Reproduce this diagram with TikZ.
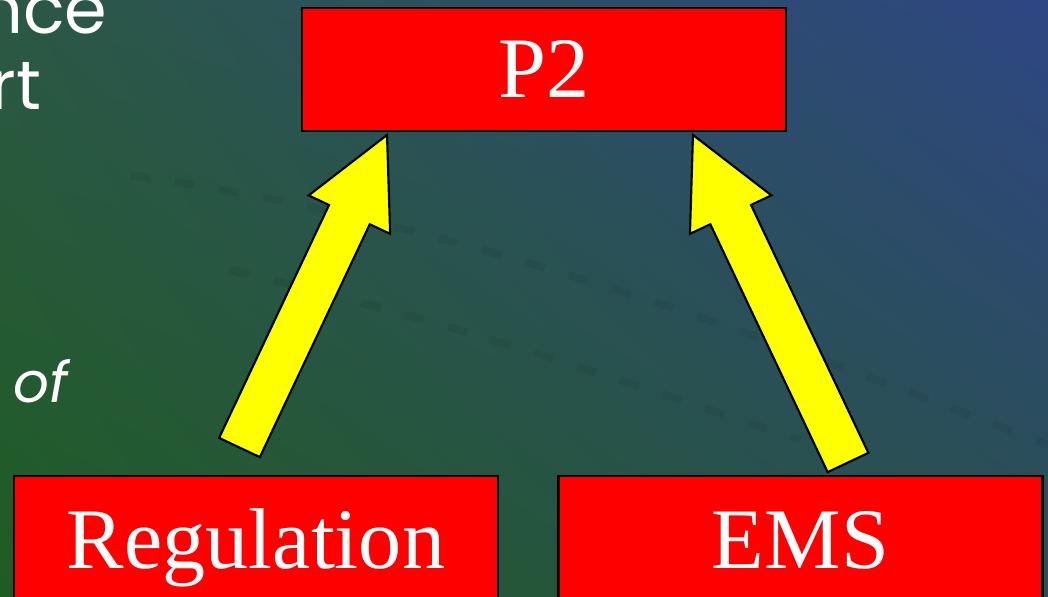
\documentclass[tikz,border=0pt]{standalone}
\usepackage{fontspec}
\setmainfont{Liberation Serif}
\newfontfamily\gothic{Poppins}
\usetikzlibrary{calc,shadings}
\definecolor{bgUL}{HTML}{2B5845}
\definecolor{bgUR}{HTML}{2E4684}
\definecolor{bgLL}{HTML}{1F5C22}
\definecolor{bgLR}{HTML}{2A5050}
\definecolor{arrowyellow}{HTML}{FFFF00}
\newcommand\myblockarrow[2]{%
  \coordinate (#1-h) at ($(#2)!0.88cm!(#1)$);
  \filldraw[blockarrowstyle]
    ($(#1)!0.225cm!-90:(#2)$) -- ($(#1)!0.225cm!90:(#2)$)
    -- ($(#1-h)!0.225cm!-90:(#1)$) -- ($(#1-h)!0.45cm!-90:(#1)$)
    -- (#2)
    -- ($(#1-h)!0.45cm!90:(#1)$) -- ($(#1-h)!0.225cm!90:(#1)$)
    -- cycle;}
\begin{document}
\begin{tikzpicture}[x=0.01cm,y=-0.01cm,
  box/.style={draw=black, line width=0.7pt, fill=red, text=white,
    font=\fontsize{24.5}{28}\selectfont, text height=16.2pt, text depth=0pt,
    minimum width=4.84cm, minimum height=1.23cm, inner sep=0pt},
  blockarrowstyle/.style={fill=arrowyellow, draw=black, line width=0.6pt, line join=miter},
  sidetext/.style={text=white, font=\gothic\fontsize{19.5}{22}\selectfont, inner sep=0pt},
  faintdash/.style={draw=black, opacity=0.06, line width=0.08cm, dash pattern=on 0.2cm off 0.25cm}]
\useasboundingbox (0,0) rectangle (1048,597);
\clip (0,0) rectangle (1048,597);
\shade[upper left=bgUL, upper right=bgUR, lower left=bgLL, lower right=bgLR] (0,0) rectangle (1048,597);
% faint background dashes
\draw[faintdash] (130,175) .. controls (450,220) and (750,330) .. (1048,445);
\draw[faintdash] (230,270) .. controls (450,320) and (650,390) .. (800,440);
% side texts
\node[sidetext, anchor=base east] (t1) at (108,33) {nce};
\node[sidetext, anchor=base east] (t2) at (42,110) {rt};
\node[sidetext, anchor=base west, font=\gothic\fontsize{16}{18}\selectfont\itshape] (t3) at (13,402) {of};
% boxes
\node[box] (p2) at (544,69.5) {P2};
\node[box, minimum height=1.28cm] (reg) at (256,540) {Regulation};
\node[box, minimum height=1.28cm] (ems) at (800.5,540) {EMS};
% arrows
\coordinate (regtail) at (239.5,447.5);
\coordinate (regtip) at (387,135);
\coordinate (emstail) at (848,462.5);
\coordinate (emstip) at (693,135);
\myblockarrow{regtail}{regtip}
\myblockarrow{emstail}{emstip}
\end{tikzpicture}
\end{document}
